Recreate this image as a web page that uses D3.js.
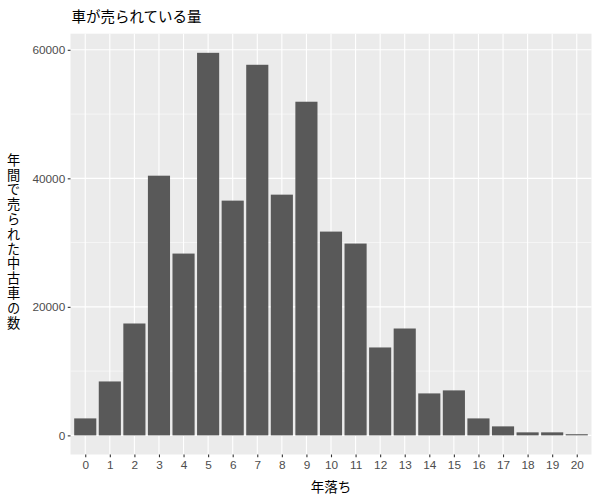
<!DOCTYPE html>
<html>
<head>
<meta charset="utf-8">
<script src="https://cdn.jsdelivr.net/npm/d3@7"></script>
<style>
  body { margin: 0; background: #ffffff; }
  svg { display: block; }
</style>
</head>
<body>
<div id="chart"></div>
<script>
// data
const ages = [0, 1, 2, 3, 4, 5, 6, 7, 8, 9, 10, 11, 12, 13, 14, 15, 16, 17, 18, 19, 20];
const counts = [2640, 8390, 17410, 40410, 28290, 59530, 36530, 57670, 37460, 51920,
  31710, 29850, 13680, 16630, 6530, 7000, 2640, 1400, 470, 470, 180];
const yTicks = [0, 20000, 40000, 60000];
const yMinor = [10000, 30000, 50000];

const titleText = '車が売られている量';
const xTitle = '年落ち';
const yTitle = '年間で売られた中古車の数';

const width = 600;
const height = 500;

// panel edges
const panelLeft = 70.5;
const panelRight = 591.5;
const panelTop = 33.7;
const panelBottom = 454.5;

const labelFont = '"Liberation Sans", Arial, sans-serif';
const cjkFont = '"Noto Sans CJK JP", "Noto Sans", sans-serif';

const svg = d3
  .select('#chart')
  .append('svg')
  .attr('width', width)
  .attr('height', height);

svg.append('rect').attr('width', width).attr('height', height).attr('fill', '#ffffff');

// scales, with ggplot style expansion
const yMax = d3.max(counts);
const yScale = d3
  .scaleLinear()
  .domain([-0.05 * yMax, yMax * 1.05])
  .range([panelBottom, panelTop]);

const xScale = d3
  .scaleLinear()
  .domain([-0.6, ages.length - 1 + 0.6])
  .range([panelLeft, panelRight]);

// panel background
svg
  .append('rect')
  .attr('x', panelLeft)
  .attr('y', panelTop)
  .attr('width', panelRight - panelLeft)
  .attr('height', panelBottom - panelTop)
  .attr('fill', '#EBEBEB');

const grid = svg.append('g').attr('class', 'grid');

// minor y grid
grid
  .selectAll('line.minor')
  .data(yMinor)
  .join('line')
  .attr('class', 'minor')
  .attr('x1', panelLeft)
  .attr('x2', panelRight)
  .attr('y1', (d) => yScale(d))
  .attr('y2', (d) => yScale(d))
  .attr('stroke', '#ffffff')
  .attr('stroke-width', 0.55);

// major y grid
grid
  .selectAll('line.ymajor')
  .data(yTicks)
  .join('line')
  .attr('class', 'ymajor')
  .attr('x1', panelLeft)
  .attr('x2', panelRight)
  .attr('y1', (d) => yScale(d))
  .attr('y2', (d) => yScale(d))
  .attr('stroke', '#ffffff')
  .attr('stroke-width', 1.1);

// x grid at each category
grid
  .selectAll('line.xmajor')
  .data(ages)
  .join('line')
  .attr('class', 'xmajor')
  .attr('x1', (d) => xScale(d))
  .attr('x2', (d) => xScale(d))
  .attr('y1', panelTop)
  .attr('y2', panelBottom)
  .attr('stroke', '#ffffff')
  .attr('stroke-width', 1.1);

// bars
const barHalf = 0.45;
svg
  .append('g')
  .attr('class', 'bars')
  .selectAll('rect')
  .data(ages.map((a, i) => ({ age: a, count: counts[i] })))
  .join('rect')
  .attr('x', (d) => xScale(d.age - barHalf))
  .attr('width', (d) => xScale(d.age + barHalf) - xScale(d.age - barHalf))
  .attr('y', (d) => yScale(d.count))
  .attr('height', (d) => yScale(0) - yScale(d.count))
  .attr('fill', '#595959');

// y axis
const yAxis = d3
  .axisLeft(yScale)
  .tickValues(yTicks)
  .tickSize(2.75)
  .tickPadding(2.5)
  .tickFormat(d3.format('d'));

const yAxisG = svg
  .append('g')
  .attr('class', 'y-axis')
  .attr('transform', `translate(${panelLeft}, 0)`)
  .call(yAxis);
yAxisG.select('.domain').remove();
yAxisG.selectAll('line').attr('stroke', '#333333').attr('stroke-width', 1.1);
yAxisG
  .selectAll('text')
  .attr('fill', '#4D4D4D')
  .style('font-family', labelFont)
  .style('font-size', '11.8px');

// x axis
const xAxis = d3.axisBottom(xScale).tickValues(ages).tickSize(2.75).tickPadding(3);

const xAxisG = svg
  .append('g')
  .attr('class', 'x-axis')
  .attr('transform', `translate(0, ${panelBottom})`)
  .call(xAxis);
xAxisG.select('.domain').remove();
xAxisG.selectAll('line').attr('stroke', '#333333').attr('stroke-width', 1.1);
xAxisG
  .selectAll('text')
  .attr('fill', '#4D4D4D')
  .style('font-family', labelFont)
  .style('font-size', '11.8px');

// title
svg
  .append('text')
  .attr('x', panelLeft + 1)
  .attr('y', 22)
  .style('font-family', cjkFont)
  .style('font-size', '14.5px')
  .attr('fill', '#000000')
  .text(titleText);

// x axis title
svg
  .append('text')
  .attr('x', (panelLeft + panelRight) / 2)
  .attr('y', 492)
  .style('text-anchor', 'middle')
  .style('font-family', cjkFont)
  .style('font-size', '13.5px')
  .attr('fill', '#000000')
  .text(xTitle);

// y axis title, written top to bottom with upright characters
svg
  .append('text')
  .attr('class', 'y-axis-label')
  .attr('x', 13.5)
  .attr('y', 242)
  .style('writing-mode', 'vertical-rl')
  .style('text-orientation', 'upright')
  .style('text-anchor', 'middle')
  .style('letter-spacing', '1.6px')
  .style('font-family', cjkFont)
  .style('font-size', '13.2px')
  .attr('fill', '#000000')
  .text(yTitle);
</script>
</body>
</html>
